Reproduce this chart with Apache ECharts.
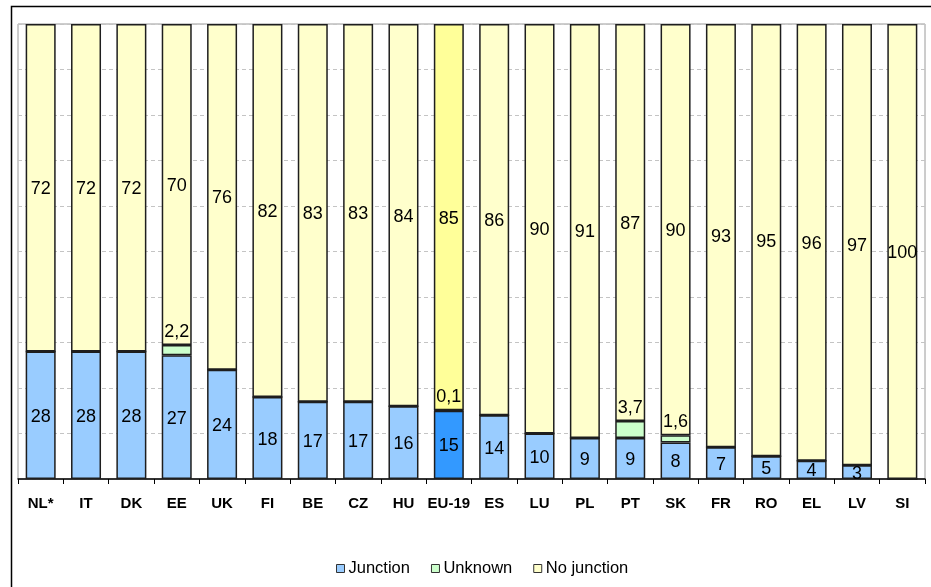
<!DOCTYPE html>
<html>
<head>
<meta charset="utf-8">
<script src="https://cdn.jsdelivr.net/npm/echarts@6/dist/echarts.min.js"></script>
<style>
  html, body { margin: 0; padding: 0; background: #fff; }
  #chart { width: 931px; height: 587px; }
</style>
</head>
<body>
<div id="chart"></div>
<script>
// Countries, in the order they are plotted
var categories = ['NL*', 'IT', 'DK', 'EE', 'UK', 'FI', 'BE', 'CZ', 'HU', 'EU-19',
                  'ES', 'LU', 'PL', 'PT', 'SK', 'FR', 'RO', 'EL', 'LV', 'SI'];
// Shares (%) per category
var junction   = [28, 28, 28, 27, 24, 18, 17, 17, 16, 15, 14, 10, 9, 9, 8, 7, 5, 4, 3, 0];
var unknown    = [0, 0, 0, 2.2, 0, 0, 0, 0, 0, 0.1, 0, 0, 0, 3.7, 1.6, 0, 0, 0, 0, 0];
var noJunction = [72, 72, 72, 70, 76, 82, 83, 83, 84, 85, 86, 90, 91, 87, 90, 93, 95, 96, 97, 100];

var highlight = 'EU-19';
var FONT = '"Liberation Sans", Arial, sans-serif';

// 100% stacked: each column is scaled to its own total
var totals = categories.map(function (c, i) { return junction[i] + unknown[i] + noJunction[i]; });

function build(values, hiColor) {
  return values.map(function (v, i) {
    var item = { value: v / totals[i] * 100, raw: v };
    if (categories[i] === highlight && hiColor) {
      item.itemStyle = { color: hiColor };
    }
    return item;
  });
}

function fmt(p) {
  var raw = p.data.raw;
  if (!raw) return '';
  return String(raw).replace('.', ',');
}

var barCommon = {
  type: 'bar',
  stack: 'total',
  barWidth: 30,
  itemStyle: { borderColor: '#1e1e1e', borderWidth: 1.5 },
  emphasis: { disabled: true }
};

var chart = echarts.init(document.getElementById('chart'), null, { renderer: 'canvas' });

chart.setOption({
  animation: false,
  backgroundColor: '#fff',
  graphic: [{
    type: 'rect',
    shape: { x: 11.5, y: 6.5, width: 1000, height: 1000 },
    style: { fill: 'none', stroke: '#000', lineWidth: 1.5 },
    silent: true,
    z: -10
  }],
  grid: {
    left: 18, right: 6, top: 24, bottom: 108,
    show: true, borderColor: '#9a9a9a', borderWidth: 1
  },
  legend: {
    left: 331, top: 555,
    itemWidth: 8, itemHeight: 8, itemGap: 21,
    icon: 'rect',
    textStyle: { fontFamily: FONT, fontSize: 16.5, color: '#000', padding: [0, 0, 0, -1] },
    itemStyle: { borderColor: '#333', borderWidth: 1 },
    data: ['Junction', 'Unknown', 'No junction']
  },
  xAxis: {
    type: 'category',
    data: categories,
    axisLine: { lineStyle: { color: '#000', width: 1.5 } },
    axisTick: { show: true, length: 5, interval: 0, lineStyle: { color: '#000' } },
    axisLabel: { interval: 0, fontFamily: FONT, fontSize: 15, fontWeight: 'bold', color: '#000', margin: 17 }
  },
  yAxis: {
    type: 'value',
    min: 0, max: 100, interval: 10,
    axisLabel: { show: false },
    axisLine: { show: false },
    axisTick: { show: false },
    splitLine: { lineStyle: { color: '#c4c4c4', type: [4, 3], width: 1 } }
  },
  series: [
    Object.assign({}, barCommon, {
      name: 'Junction',
      color: '#99ccff',
      data: build(junction, '#3399ff'),
      label: { show: true, position: 'inside', offset: [0, 1.5], formatter: fmt,
               fontFamily: FONT, fontSize: 18, color: '#000' }
    }),
    Object.assign({}, barCommon, {
      name: 'Unknown',
      color: '#ccffcc',
      data: build(unknown),
      label: { show: true, position: 'top', distance: 4, formatter: fmt,
               fontFamily: FONT, fontSize: 18, color: '#000' }
    }),
    Object.assign({}, barCommon, {
      name: 'No junction',
      color: '#ffffcc',
      data: build(noJunction, '#ffff99'),
      label: { show: true, position: 'inside', offset: [0, 1.5], formatter: fmt,
               fontFamily: FONT, fontSize: 18, color: '#000' }
    })
  ]
});
</script>
</body>
</html>
